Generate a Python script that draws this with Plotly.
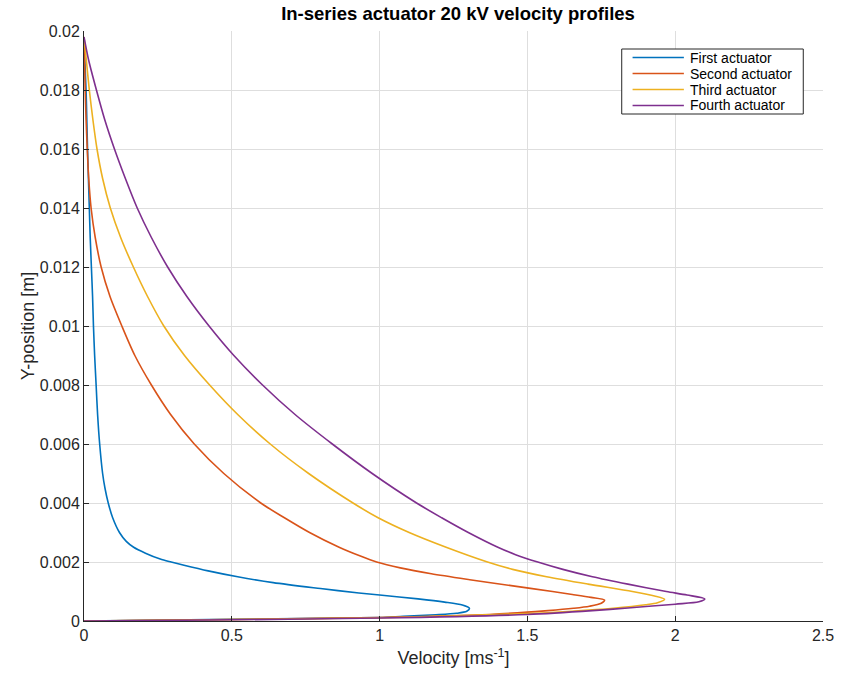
import plotly.graph_objects as go

# ---- data (velocity [m/s], y-position [m]) ----
first_v = [0, 0.5, 1.0, 1.08, 1.19, 1.26, 1.295, 1.304, 1.28, 1.22, 1.13, 1.0, 0.93, 0.8, 0.64, 0.52,
           0.42, 0.335, 0.295, 0.258, 0.208, 0.168, 0.143, 0.12, 0.097, 0.082, 0.071, 0.063, 0.053,
           0.046, 0.041, 0.036, 0.032, 0.029, 0.025, 0.021, 0.018, 0.015, 0.012, 0.0095, 0.007, 0]
first_y = [0, 0.00006, 0.00012, 0.00016, 0.00021, 0.00026, 0.00033, 0.00043, 0.00054, 0.00064, 0.00075,
           0.00088, 0.00095, 0.0011, 0.0013, 0.0015, 0.0017, 0.0019, 0.002, 0.0021, 0.0023, 0.0025,
           0.0027, 0.003, 0.0035, 0.004, 0.0045, 0.005, 0.006, 0.007, 0.008, 0.009, 0.010, 0.011,
           0.012, 0.013, 0.014, 0.015, 0.016, 0.017, 0.018, 0.0197]

second_v = [0, 0.5, 1.0, 1.322, 1.5, 1.57, 1.656, 1.71, 1.75, 1.761, 1.715, 1.652, 1.585, 1.445, 1.305,
            1.175, 1.07, 0.99, 0.935, 0.863, 0.763, 0.678, 0.598, 0.473, 0.373, 0.293, 0.228, 0.172,
            0.128, 0.088, 0.058, 0.038, 0.024, 0.016, 0.011, 0.007, 0.004, 0.002, 0]
second_y = [0, 0.00005, 0.00012, 0.0002, 0.0003, 0.00035, 0.00043, 0.0005, 0.0006, 0.00071, 0.0008,
            0.0009, 0.001, 0.0012, 0.0014, 0.0016, 0.0018, 0.002, 0.0022, 0.0025, 0.003, 0.0035,
            0.004, 0.005, 0.006, 0.007, 0.008, 0.009, 0.010, 0.011, 0.012, 0.013, 0.014, 0.015,
            0.016, 0.017, 0.018, 0.019, 0.0197]

third_v = [0, 0.5, 1.0, 1.5, 1.65, 1.79, 1.9, 1.94, 1.964, 1.93, 1.855, 1.705, 1.565, 1.45, 1.365,
           1.225, 1.1, 0.995, 0.91, 0.76, 0.63, 0.52, 0.425, 0.34, 0.27, 0.215, 0.167, 0.124, 0.089,
           0.063, 0.044, 0.03, 0.018, 0.008, 0]
third_y = [0, 0.00005, 0.00011, 0.00025, 0.00033, 0.00043, 0.00055, 0.00062, 0.00074, 0.00085, 0.001,
           0.00125, 0.0015, 0.00175, 0.002, 0.0025, 0.003, 0.0035, 0.004, 0.005, 0.006, 0.007, 0.008,
           0.009, 0.010, 0.011, 0.012, 0.013, 0.014, 0.015, 0.016, 0.017, 0.018, 0.019, 0.0198]

fourth_v = [0, 0.5, 1.0, 1.5, 1.72, 1.85, 2.0, 2.08, 2.10, 2.04, 1.97, 1.84, 1.72, 1.62, 1.535, 1.46,
            1.40, 1.30, 1.21, 1.125, 0.975, 0.84, 0.714, 0.604, 0.507, 0.423, 0.348, 0.283, 0.228,
            0.18, 0.14, 0.103, 0.07, 0.042, 0.016, 0]
fourth_y = [0, 0.00004, 0.0001, 0.00022, 0.00035, 0.00045, 0.00057, 0.00065, 0.00075, 0.00088, 0.001,
            0.00125, 0.0015, 0.00175, 0.002, 0.00225, 0.0025, 0.003, 0.0035, 0.004, 0.005, 0.006,
            0.007, 0.008, 0.009, 0.010, 0.011, 0.012, 0.013, 0.014, 0.015, 0.016, 0.017, 0.018,
            0.019, 0.0198]

series_names = ["First actuator", "Second actuator", "Third actuator", "Fourth actuator"]
series_colors = ["#0072BD", "#D95319", "#EDB120", "#7E2F8E"]

x_tickvals = [0, 0.5, 1, 1.5, 2, 2.5]
x_ticktext = ["0", "0.5", "1", "1.5", "2", "2.5"]
y_tickvals = [0, 0.002, 0.004, 0.006, 0.008, 0.01, 0.012, 0.014, 0.016, 0.018, 0.02]
y_ticktext = ["0", "0.002", "0.004", "0.006", "0.008", "0.01", "0.012", "0.014", "0.016", "0.018", "0.02"]

FONT = "Liberation Sans, Arial, sans-serif"
TXT = "#262626"

# plot-area geometry in pixels (for the hand-drawn legend box)
W, H = 846, 678
ML, MR, MT, MB = 84, 13, 31, 57
PW, PH = W - ML - MR, H - MT - MB


def px_x(px):
    return (px - ML) / PW


def px_y(py):
    return (H - MB - py) / PH


fig = go.Figure()
data = [(first_v, first_y), (second_v, second_y), (third_v, third_y), (fourth_v, fourth_y)]
for (vx, vy), name, col in zip(data, series_names, series_colors):
    fig.add_trace(go.Scatter(x=vx, y=vy, mode="lines", name=name, showlegend=False,
                             line=dict(color=col, width=1.6, shape="spline", smoothing=0.8)))

# legend box (MATLAB style, compact rows)
box_l, box_r, box_t, box_b = 629, 813, 49, 114
row_px = [57.5, 73.5, 89.5, 105.5]
fig.add_shape(type="rect", xref="paper", yref="paper", x0=px_x(box_l), x1=px_x(box_r),
              y0=px_y(box_b), y1=px_y(box_t),
              line=dict(color=TXT, width=1), fillcolor="white", layer="above")
for name, col, ry in zip(series_names, series_colors, row_px):
    fig.add_shape(type="line", xref="paper", yref="paper", x0=px_x(640), x1=px_x(692),
                  y0=px_y(ry), y1=px_y(ry), line=dict(color=col, width=1.6), layer="above")
    fig.add_annotation(xref="paper", yref="paper", x=px_x(697), y=px_y(ry), text=name,
                       showarrow=False, xanchor="left", yanchor="middle", borderpad=0,
                       font=dict(family=FONT, size=14, color="#000000"))

fig.update_layout(
    width=W, height=H,
    margin=dict(l=ML, r=MR, t=MT, b=MB),
    paper_bgcolor="white", plot_bgcolor="white",
    font=dict(family=FONT, size=16, color=TXT),
    title=dict(text="<b>In-series actuator 20 kV velocity profiles</b>", x=458 / W,
               xanchor="center", y=1 - 14 / H, yanchor="middle",
               font=dict(family=FONT, size=18.5, color="#000000")),
)
fig.update_xaxes(range=[0, 2.5], tickvals=x_tickvals, ticktext=x_ticktext,
                 showgrid=True, gridcolor="#dedede", gridwidth=1, zeroline=False,
                 showline=True, linecolor=TXT, linewidth=1, mirror=False,
                 ticks="inside", ticklen=5, tickcolor=TXT, tickfont=dict(size=16, color=TXT),
                 title=dict(text="Velocity [ms<sup>-1</sup>]", font=dict(size=18, color=TXT), standoff=8))
fig.update_yaxes(range=[0, 0.02], tickvals=y_tickvals, ticktext=y_ticktext,
                 showgrid=True, gridcolor="#dedede", gridwidth=1, zeroline=False,
                 showline=True, linecolor=TXT, linewidth=1, mirror=False,
                 ticks="inside", ticklen=5, tickcolor=TXT, tickfont=dict(size=16, color=TXT),
                 title=dict(text="Y-position [m]", font=dict(size=18, color=TXT), standoff=0))

fig.write_html("out.html")
